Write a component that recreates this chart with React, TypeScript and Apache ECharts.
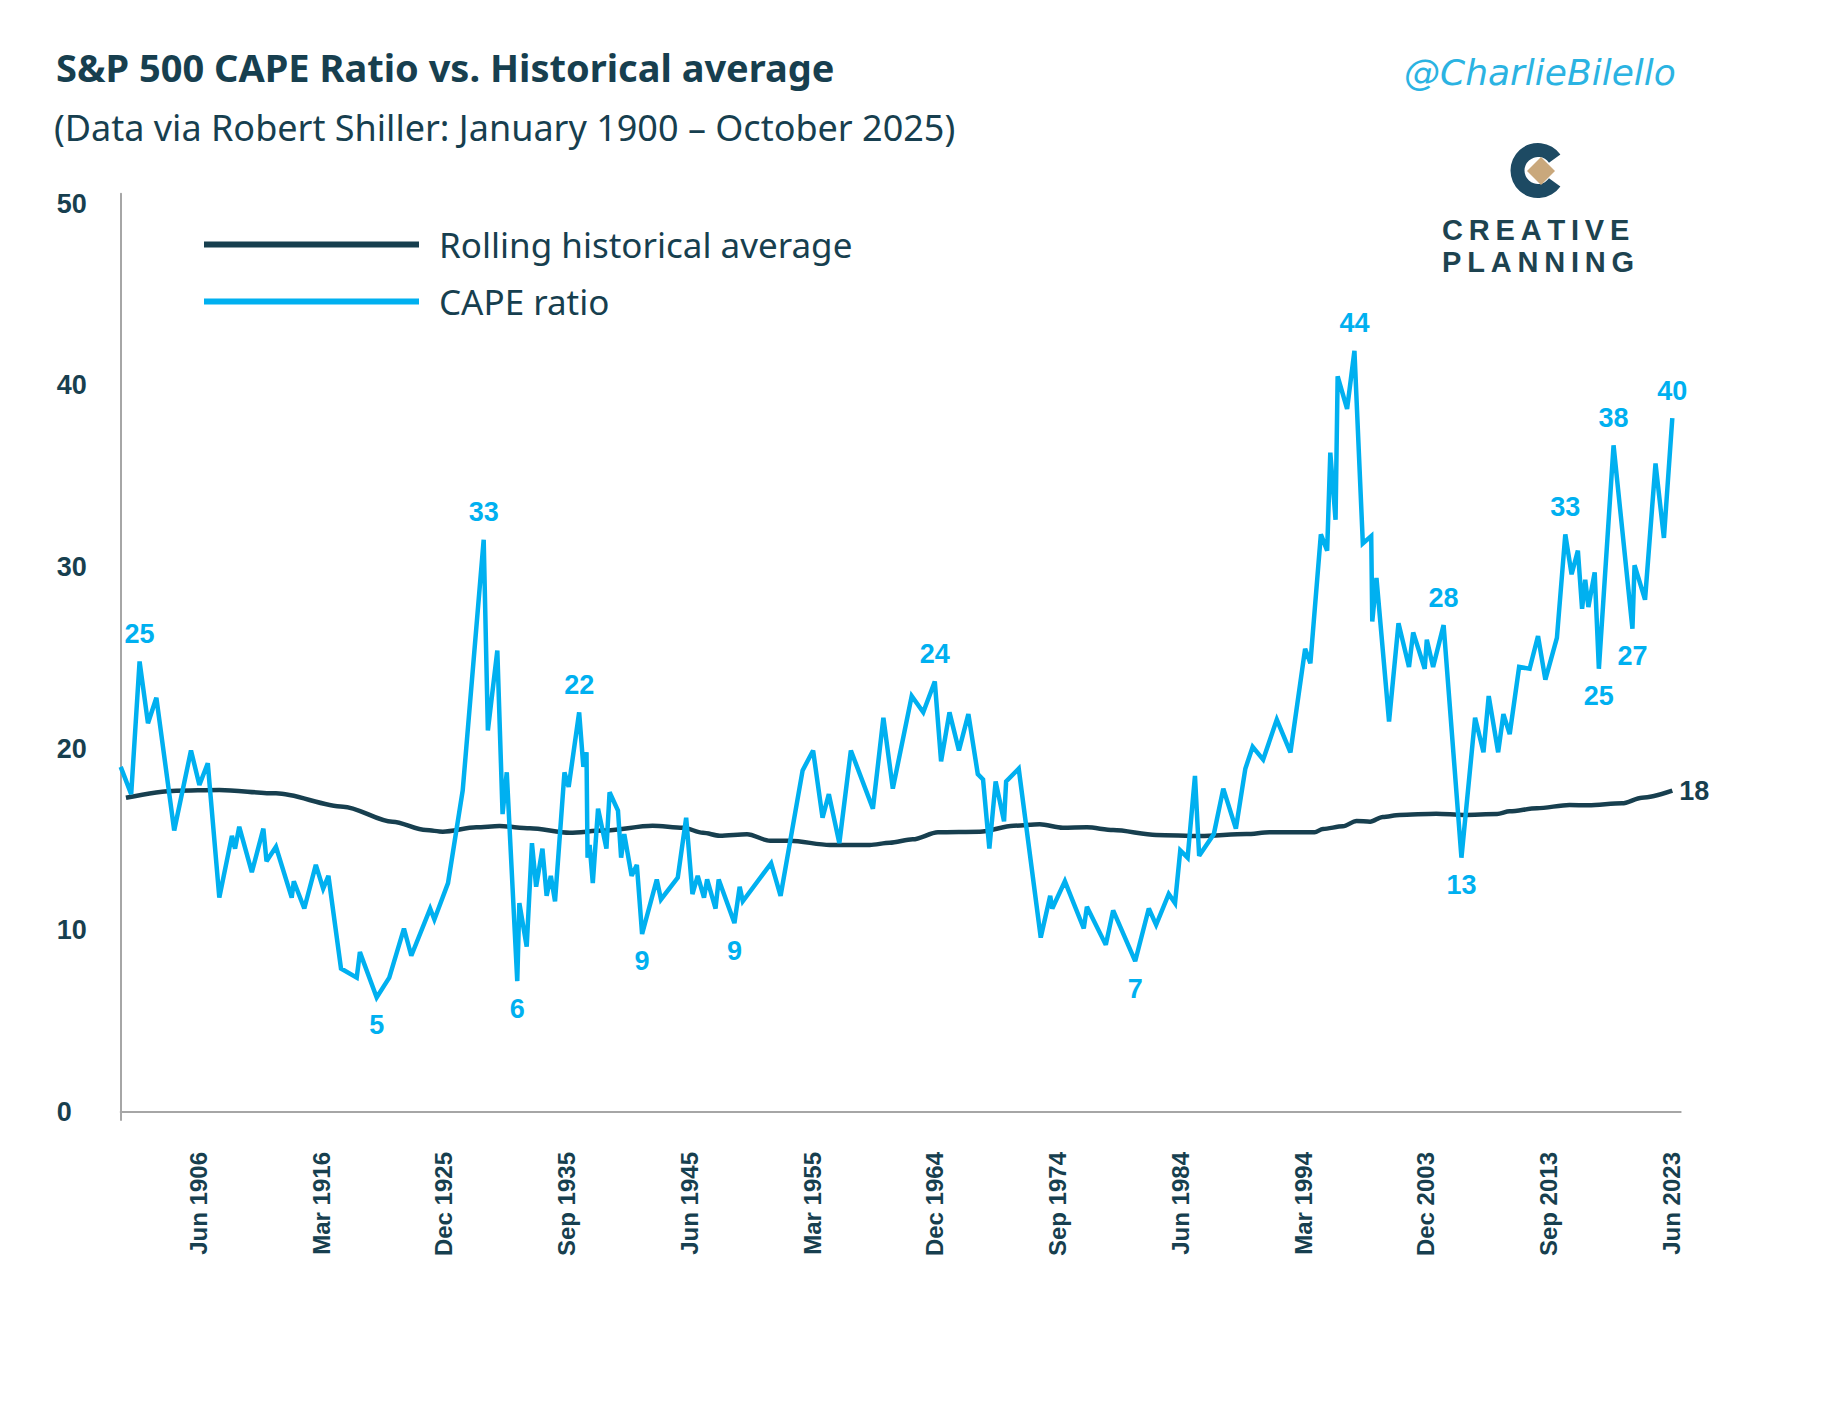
import { useEffect, useRef } from "react";
import * as echarts from "echarts";

const DARK = "#173f4f";
const BLUE = "#00b0f0";
const AXIS = "#a6a6a6";
const LABEL_FONT = "'Liberation Sans', Arial, sans-serif";
const BODY = "'Noto Sans', 'Open Sans', sans-serif";

// x positions are month slots of the source sheet (0 = first row)
const tickMonths = [74, 191, 308, 425, 542, 659, 776, 893, 1010, 1127, 1244, 1361, 1478];
const tickLabels = [
  "Jun 1906", "Mar 1916", "Dec 1925", "Sep 1935", "Jun 1945", "Mar 1955", "Dec 1964",
  "Sep 1974", "Jun 1984", "Mar 1994", "Dec 2003", "Sep 2013", "Jun 2023",
];
const yTicks = [0, 10, 20, 30, 40, 50];

const capeRatio: [number, number][] = [
  [0, 19.0], [10, 17.5], [18, 24.8], [26, 21.4], [34, 22.8], [51, 15.5], [67, 19.9], [75, 18.0],
  [83, 19.2], [94, 11.8], [106, 15.2], [109, 14.5], [113, 15.7], [125, 13.2], [136, 15.6], [139, 13.8],
  [148, 14.6], [163, 11.8], [165, 12.7], [175, 11.2], [186, 13.6], [193, 12.3], [198, 13.0], [210, 7.9],
  [225, 7.4], [228, 8.8], [244, 6.3], [256, 7.4], [270, 10.1], [277, 8.6], [295, 11.2], [299, 10.6],
  [312, 12.6], [326, 17.7], [346, 31.5], [350, 21.0], [359, 25.4], [364, 16.4], [368, 18.7], [378, 7.2],
  [380, 11.5], [387, 9.1], [392, 14.8], [396, 12.4], [402, 14.5], [406, 11.9], [410, 13.0], [414, 11.6],
  [423, 18.7], [427, 17.9], [437, 22.0], [441, 19.0], [444, 19.8], [445, 14.0], [447, 14.7], [450, 12.6],
  [455, 16.7], [463, 14.5], [466, 17.6], [474, 16.6], [477, 14.0], [480, 15.3], [487, 13.0], [492, 13.6],
  [497, 9.8], [511, 12.8], [515, 11.7], [531, 12.9], [539, 16.2], [545, 12.0], [550, 13.0], [556, 11.8],
  [559, 12.8], [567, 11.2], [570, 12.8], [585, 10.4], [590, 12.4], [593, 11.6], [620, 13.7], [629, 11.9],
  [650, 18.8], [660, 19.9], [669, 16.2], [675, 17.5], [685, 14.8], [696, 19.9], [717, 16.7], [727, 21.7],
  [736, 17.8], [754, 22.9], [765, 22.0], [776, 23.7], [782, 19.3], [790, 22.0], [799, 19.9], [808, 21.9],
  [817, 18.6], [822, 18.3], [828, 14.5], [834, 18.2], [842, 16.0], [844, 18.2], [856, 18.9], [877, 9.6],
  [886, 11.9], [888, 11.2], [900, 12.7], [918, 10.1], [921, 11.3], [939, 9.2], [946, 11.1], [967, 8.3],
  [980, 11.2], [987, 10.3], [999, 12.0], [1005, 11.5], [1010, 14.4], [1017, 14.0], [1024, 18.5], [1028, 14.1],
  [1042, 15.3], [1051, 17.8], [1063, 15.6], [1072, 18.9], [1079, 20.1], [1089, 19.4], [1102, 21.6], [1115, 19.8],
  [1129, 25.5], [1134, 24.7], [1144, 31.8], [1150, 30.9], [1153, 36.3], [1158, 32.6], [1160, 40.5], [1169, 38.7],
  [1176, 41.9], [1184, 31.3], [1192, 31.7], [1193, 27.0], [1197, 29.4], [1209, 21.5], [1218, 26.9], [1228, 24.5],
  [1232, 26.4], [1243, 24.4], [1245, 26.0], [1251, 24.5], [1261, 26.8], [1278, 14.0], [1291, 21.7], [1299, 19.8],
  [1304, 22.9], [1313, 19.8], [1318, 21.9], [1324, 20.8], [1333, 24.5], [1343, 24.4], [1351, 26.2], [1358, 23.8],
  [1369, 26.1], [1377, 31.8], [1383, 29.6], [1389, 30.9], [1393, 27.7], [1396, 29.3], [1399, 27.8], [1405, 29.7],
  [1409, 24.4], [1423, 36.7], [1441, 26.6], [1443, 30.1], [1453, 28.2], [1463, 35.7], [1471, 31.6], [1479, 38.2],
];

const rollingAverage: [number, number][] = [
  [5, 17.3], [53, 17.69], [94, 17.73], [148, 17.54], [212, 16.81], [259, 15.98], [291, 15.52], [307, 15.43],
  [339, 15.67], [361, 15.74], [390, 15.62], [428, 15.37], [460, 15.49], [507, 15.76], [536, 15.65], [555, 15.37],
  [571, 15.21], [597, 15.29], [619, 14.93], [638, 14.93], [676, 14.7], [714, 14.7], [733, 14.82], [755, 15.01],
  [779, 15.4], [819, 15.43], [851, 15.76], [876, 15.84], [898, 15.65], [921, 15.67], [946, 15.52], [987, 15.25],
  [1029, 15.19], [1073, 15.3], [1095, 15.4], [1124, 15.4], [1138, 15.4], [1146, 15.58], [1165, 15.73], [1178, 16.02],
  [1191, 15.98], [1203, 16.24], [1219, 16.35], [1254, 16.42], [1280, 16.35], [1312, 16.4], [1324, 16.55], [1350, 16.72],
  [1381, 16.9], [1399, 16.88], [1431, 16.99], [1450, 17.3], [1479, 17.69],
];

// callouts: index into capeRatio, printed value, side of the line
const calloutIndex = [2, 34, 26, 39, 50, 64, 75, 91, 111, 136, 148, 149, 161, 168, 169, 170, 175];
const calloutText = ["25", "33", "5", "6", "22", "9", "9", "24", "7", "44", "28", "13", "33", "25", "38", "27", "40"];
const calloutSide = ["top", "top", "bottom", "bottom", "top", "bottom", "bottom", "top", "bottom", "top", "top", "bottom", "top", "bottom", "top", "bottom", "top"];

export default function App() {
  const ref = useRef<HTMLDivElement>(null);

  useEffect(() => {
    if (!ref.current) return;
    const chart = echarts.init(ref.current, null, { renderer: "svg" });
    chart.setOption({
      animation: false,
      backgroundColor: "#ffffff",
      title: [
        {
          text: "S&P 500 CAPE Ratio vs. Historical average",
          left: 51,
          top: 39,
          textStyle: { fontFamily: BODY, fontSize: 38, lineHeight: 46, fontWeight: "bold", color: DARK },
        },
        {
          text: "(Data via Robert Shiller: January 1900 – October 2025)",
          left: 49,
          top: 100,
          textStyle: { fontFamily: BODY, fontSize: 36, lineHeight: 44, fontWeight: "normal", color: DARK },
        },
      ],
      legend: {
        orient: "vertical",
        left: 199,
        top: 222,
        itemWidth: 215,
        itemHeight: 6,
        itemGap: 22,
        icon: "rect",
        selectedMode: false,
        data: ["Rolling historical average", "CAPE ratio"],
        textStyle: { fontFamily: BODY, fontSize: 35, color: DARK, padding: [0, 0, 0, 15] },
      },
      grid: { left: 120.7, right: 150.3, top: 193.7, bottom: 297 },
      xAxis: {
        type: "value",
        min: 0,
        max: 1487,
        splitLine: { show: false },
        axisTick: { show: false },
        axisLine: { show: true, lineStyle: { color: AXIS, width: 2 } },
        axisLabel: {
          customValues: tickMonths,
          rotate: 90,
          margin: 32,
          fontFamily: LABEL_FONT,
          fontWeight: "bold",
          fontSize: 24,
          color: DARK,
          formatter: (v: number) => tickLabels[tickMonths.indexOf(v)] ?? "",
        },
      },
      yAxis: {
        type: "value",
        min: -0.44,
        max: 50.55,
        splitLine: { show: false },
        axisTick: { show: false },
        axisLine: { show: true, lineStyle: { color: AXIS, width: 2 } },
        axisLabel: {
          customValues: yTicks,
          align: "left",
          margin: 64,
          fontFamily: LABEL_FONT,
          fontWeight: "bold",
          fontSize: 27,
          color: DARK,
        },
      },
      series: [
        {
          name: "Rolling historical average",
          type: "line",
          data: rollingAverage,
          showSymbol: false,
          smooth: 0.3,
          smoothMonotone: "x",
          z: 3,
          lineStyle: { color: DARK, width: 4.5 },
          itemStyle: { color: DARK },
          endLabel: {
            show: true,
            distance: 7,
            fontFamily: LABEL_FONT,
            fontWeight: "bold",
            fontSize: 27,
            color: DARK,
            formatter: (p: any) => String(Math.round(p.value[1])),
          },
        },
        {
          name: "CAPE ratio",
          type: "line",
          data: capeRatio,
          showSymbol: false,
          z: 4,
          lineStyle: { color: BLUE, width: 4.5, join: "miter", miterLimit: 3 },
          itemStyle: { color: BLUE },
          markPoint: {
            symbol: "circle",
            symbolSize: 0,
            silent: true,
            label: {
              show: true,
              formatter: "{b}",
              fontFamily: LABEL_FONT,
              fontWeight: "bold",
              fontSize: 27,
              color: BLUE,
            },
            data: calloutIndex.map((at, i) => ({
              name: calloutText[i],
              coord: capeRatio[at],
              label: { position: calloutSide[i], distance: 14 },
            })),
          },
        },
      ],
      graphic: [
        {
          type: "text",
          x: 1404,
          y: 72,
          style: {
            text: "@CharlieBilello",
            fill: "#2bb3e2",
            font: "italic 36px 'DejaVu Sans', sans-serif",
            verticalAlign: "middle",
          },
        },
        {
          type: "sector",
          shape: { cx: 1538, cy: 170.5, r: 27.5, r0: 13.5, startAngle: 0.62, endAngle: Math.PI * 2 - 0.62 },
          style: { fill: "#1d4a63" },
        },
        {
          type: "polygon",
          shape: { points: [[1541, 157], [1555, 171], [1541, 185], [1527, 171]] },
          style: { fill: "#c9a87c" },
        },
        {
          type: "text",
          x: 1442,
          y: 230,
          style: {
            text: "C\u2009R\u2009E\u2009A\u2009T\u2009I\u2009V\u2009E",
            fill: "#1d4350",
            font: "bold 29px 'Liberation Sans', sans-serif",
            verticalAlign: "middle",
          },
        },
        {
          type: "text",
          x: 1442,
          y: 262,
          style: {
            text: "P\u2009L\u2009A\u2009N\u2009N\u2009I\u2009N\u2009G",
            fill: "#1d4350",
            font: "bold 29px 'Liberation Sans', sans-serif",
            verticalAlign: "middle",
          },
        },
      ],
    });
    return () => chart.dispose();
  }, []);

  return (
    <div
      ref={ref}
      style={{ position: "absolute", left: 0, top: 0, width: 1831, height: 1417, background: "#ffffff" }}
    />
  );
}
